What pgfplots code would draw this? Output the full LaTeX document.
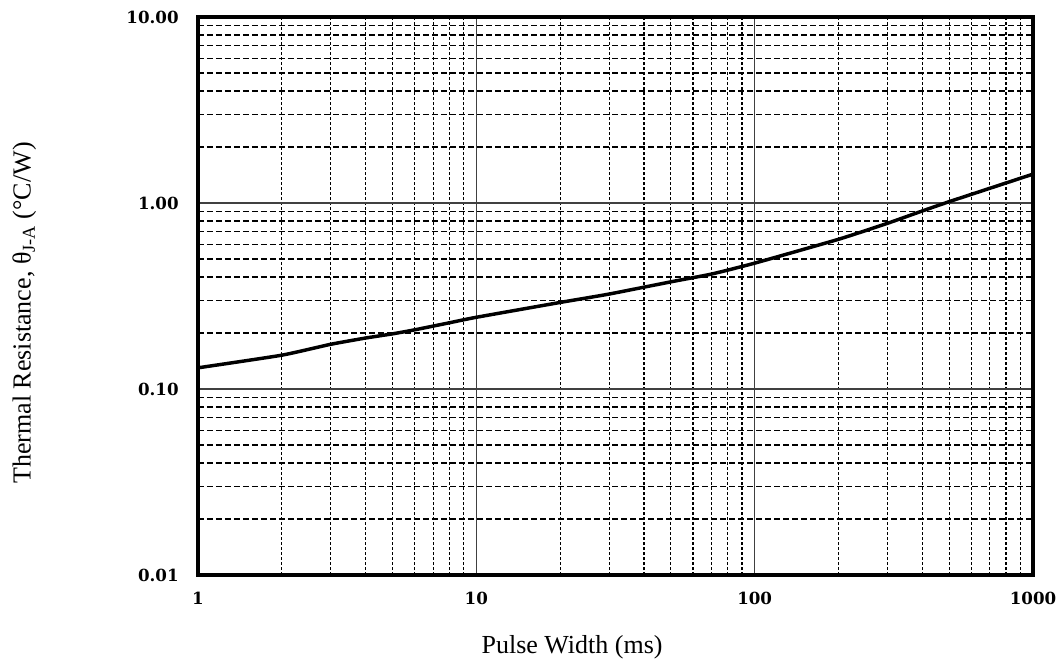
\documentclass[border=0pt]{standalone}
\usepackage{fontspec}
\setmainfont{Liberation Serif}
\newfontfamily\tickfont{DejaVu Serif}
\usepackage{pgfplots}
\pgfplotsset{compat=1.18}
\begin{document}
\begin{tikzpicture}
\useasboundingbox (-148.5pt,-66.75pt) rectangle (649.5pt,431.25pt);
\begin{axis}[
  at={(0,0)}, anchor=south west,
  scale only axis,
  width=626.25pt, height=418.5pt,
  xmode=log, ymode=log,
  xmin=1, xmax=1000, ymin=0.01, ymax=10,
  xtick={1,10,100,1000}, xticklabels={1,10,100,1000},
  ytick={0.01,0.1,1,10}, yticklabels={0.01,0.10,1.00,10.00},
  tick label style={font=\tickfont\bfseries\fontsize{12.5pt}{14pt}\selectfont},
  xticklabel style={yshift=-9pt},
  yticklabel style={xshift=-11pt},
  major tick length=0pt, minor tick length=0pt,
  grid=both,
  major grid style={line width=0.8pt, black!75},
  minor x grid style={line width=0.9pt, black, dash pattern=on 2.25pt off 1.5pt},
  minor y grid style={line width=0.9pt, black, dash pattern=on 4.5pt off 2.25pt},
  axis line style={line width=3.3pt, black},
  xlabel={Pulse Width (ms)},
  ylabel={Thermal Resistance, θ\textsubscript{J-A} (°C/W)},
  label style={font=\fontsize{19.5pt}{22pt}\selectfont},
  xlabel style={at={(axis description cs:0.448,-0.130)}, anchor=center},
  ylabel style={at={(axis description cs:-0.208,0.4695)}, anchor=center, rotate=0},
]
\addplot[black, line width=2.6pt, smooth, tension=0.3] coordinates {
(1,0.130) (2,0.152) (3,0.174) (4,0.188) (5,0.198) (6,0.208) (8,0.227) (10,0.243)
(20,0.292) (30,0.324) (50,0.377) (70,0.415) (100,0.475) (200,0.638) (300,0.778)
(400,0.906) (500,1.017) (700,1.20) (1000,1.43)
};
\end{axis}
\end{tikzpicture}
\end{document}
